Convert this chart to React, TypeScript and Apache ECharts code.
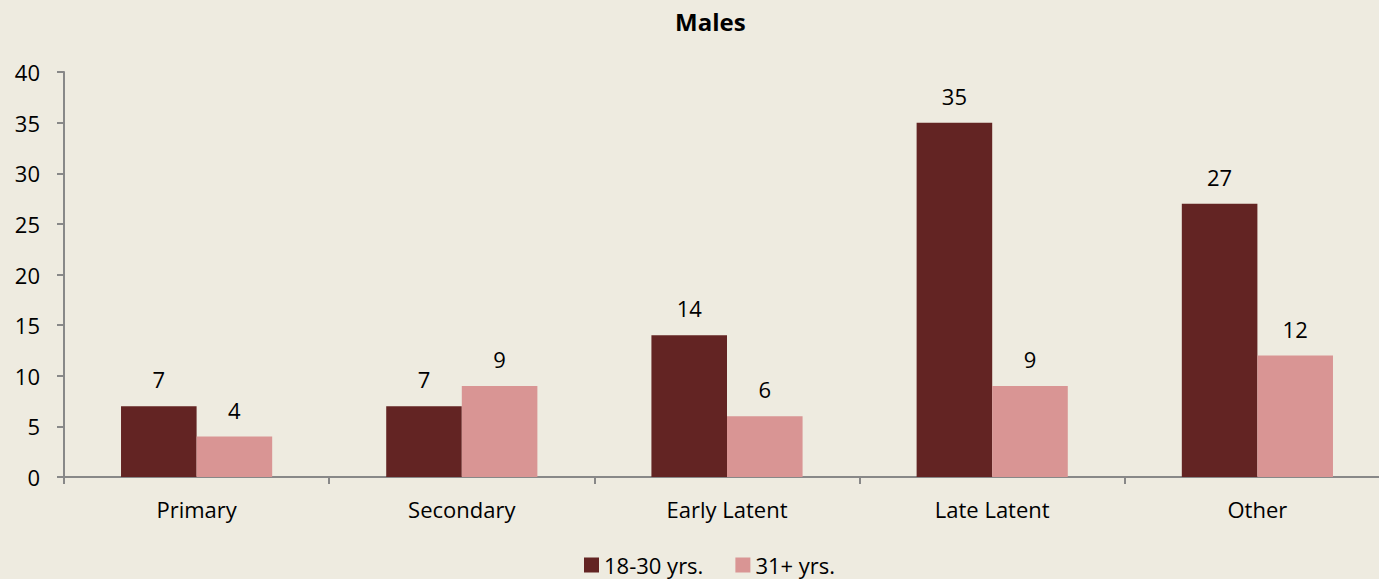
import React, { useEffect, useRef } from "react";
import * as echarts from "echarts";

const categories = ["Primary", "Secondary", "Early Latent", "Late Latent", "Other"];
const young = [7, 7, 14, 35, 27];
const older = [4, 9, 6, 9, 12];
const seriesNames = ["18-30 yrs.", "31+ yrs."];

export default function App() {
  const ref = useRef<HTMLDivElement>(null);
  useEffect(() => {
    document.body.style.margin = "0";
    const chart = echarts.init(ref.current!, null, { renderer: "svg" });
    const font = "'Open Sans', 'Noto Sans', sans-serif";
    const label = {
      show: true,
      position: "top" as const,
      distance: 16,
      fontSize: 22,
      color: "#000",
      fontFamily: font,
    };
    chart.setOption({
      animation: false,
      backgroundColor: "#EEEBE0",
      textStyle: { fontFamily: font },
      title: {
        text: "Males",
        left: 670,
        top: 4,
        textStyle: { fontSize: 24, fontWeight: "bold", color: "#000", fontFamily: font },
      },
      legend: {
        left: 584,
        top: 554,
        padding: 0,
        itemWidth: 15,
        itemHeight: 15,
        itemGap: 32,
        icon: "rect",
        textStyle: { fontSize: 22, color: "#000", fontFamily: font },
        data: seriesNames,
      },
      grid: {
        left: 64,
        width: 1326,
        top: 72,
        height: 405,
        containLabel: false,
        outerBoundsMode: "none",
      },
      xAxis: {
        type: "category",
        data: categories,
        axisLine: { lineStyle: { color: "#888", width: 2 } },
        axisTick: { show: true, length: 7, lineStyle: { color: "#888", width: 2 } },
        axisLabel: { fontSize: 22, color: "#000", margin: 21, fontFamily: font },
      },
      yAxis: {
        type: "value",
        min: 0,
        max: 40,
        interval: 5,
        splitLine: { show: false },
        axisLine: { show: true, lineStyle: { color: "#888", width: 2 } },
        axisTick: { show: true, length: 7, lineStyle: { color: "#888", width: 2 } },
        axisLabel: { fontSize: 22, color: "#000", margin: 24, fontFamily: font },
      },
      series: [
        {
          name: seriesNames[0],
          type: "bar",
          data: young,
          itemStyle: { color: "#632423" },
          barGap: "0%",
          barCategoryGap: "43%",
          label,
        },
        {
          name: seriesNames[1],
          type: "bar",
          data: older,
          itemStyle: { color: "#D99594" },
          label,
        },
      ],
    });
    return () => chart.dispose();
  }, []);
  return <div ref={ref} style={{ width: 1379, height: 579 }} />;
}
